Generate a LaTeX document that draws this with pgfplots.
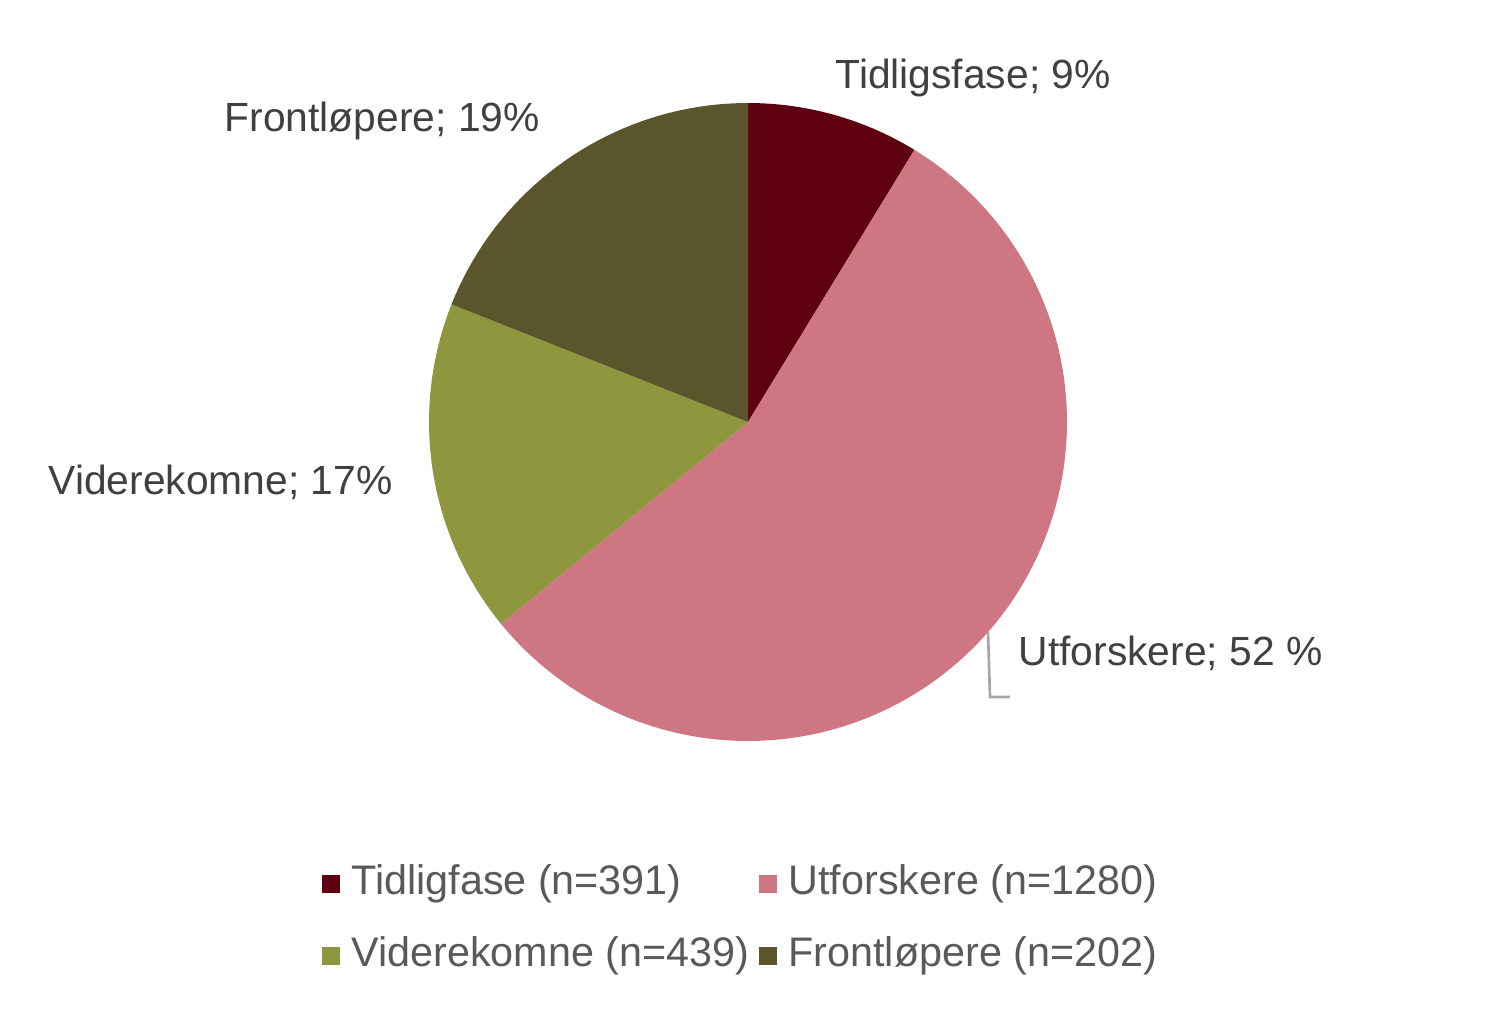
\documentclass[border=0pt]{standalone}
\usepackage{pgfplots}
\pgfplotsset{compat=1.18}
\usepackage{fontspec}
\setmainfont{Liberation Sans}
\definecolor{cTid}{HTML}{5E0010}
\definecolor{cUtf}{HTML}{CF7683}
\definecolor{cVid}{HTML}{8E973E}
\definecolor{cFro}{HTML}{5B552B}
\definecolor{labtxt}{HTML}{404040}
\definecolor{legtxt}{HTML}{595959}
\definecolor{leader}{HTML}{A6A6A6}
% slice values (shares of the pie, clockwise from top)
\def\vA{202}\def\vB{1280}\def\vC{391}\def\vD{439}
\pgfmathsetmacro\tot{\vA+\vB+\vC+\vD}
\pgfmathsetmacro\aA{0}
\pgfmathsetmacro\aB{\vA/\tot*360}
\pgfmathsetmacro\aC{(\vA+\vB)/\tot*360}
\pgfmathsetmacro\aD{(\vA+\vB+\vC)/\tot*360}
\pgfmathsetmacro\aE{360}
\def\cx{748}\def\cy{422}\def\rr{319}
\begin{document}
\begin{tikzpicture}
\begin{axis}[
  width=14.96cm, height=10.11cm, scale only axis,
  xmin=0, xmax=1496, ymin=0, ymax=1011, y dir=reverse,
  hide axis, clip=false,
  legend columns=2, legend cell align=left,
  legend image code/.code={\fill[#1] (0cm,-0.09cm) rectangle (0.18cm,0.09cm);},
  legend style={draw=none, fill=none, at={(axis cs:322,864)}, anchor=north west,
    inner sep=0pt, outer sep=0pt,
    font=\fontsize{11.75}{13}\selectfont\color{legtxt},
    nodes={inner sep=0pt, text depth=0.09cm, text height=0.3cm},
    row sep=0.33cm,
    /tikz/every odd column/.append style={column sep=0.115cm},
    /tikz/every even column/.append style={column sep=0.1cm}},
]
\path (axis cs:0,0) rectangle (axis cs:1496,1011);
\addplot[fill=cTid, draw=none, domain=\aA:\aB, samples=40]
  ({\cx+\rr*sin(x)},{\cy-\rr*cos(x)}) -- (axis cs:\cx,\cy) -- cycle;
\addlegendentry{Tidligfase (n=391)}
\addplot[fill=cUtf, draw=none, domain=\aB:\aC, samples=120]
  ({\cx+\rr*sin(x)},{\cy-\rr*cos(x)}) -- (axis cs:\cx,\cy) -- cycle;
\addlegendentry{Utforskere (n=1280)}
\addplot[fill=cVid, draw=none, domain=\aC:\aD, samples=40]
  ({\cx+\rr*sin(x)},{\cy-\rr*cos(x)}) -- (axis cs:\cx,\cy) -- cycle;
\addlegendentry{Viderekomne (n=439)}
\addplot[fill=cFro, draw=none, domain=\aD:\aE, samples=40]
  ({\cx+\rr*sin(x)},{\cy-\rr*cos(x)}) -- (axis cs:\cx,\cy) -- cycle;
\addlegendentry{Frontløpere (n=202)}
\draw[leader, line width=0.75pt] (axis cs:988,632) -- (axis cs:990,697) -- (axis cs:1010,697);
\begin{scope}[every node/.style={inner sep=0pt, anchor=base west, text=labtxt, font=\fontsize{11.6}{13}\selectfont}]
\node at (axis cs:835,89) {Tidligsfase; 9\%};
\node at (axis cs:224,132) {Frontløpere; 19\%};
\node at (axis cs:48,494) {Viderekomne; 17\%};
\node at (axis cs:1018,665) {Utforskere; 52 \%};
\end{scope}
\end{axis}
\end{tikzpicture}
\end{document}
